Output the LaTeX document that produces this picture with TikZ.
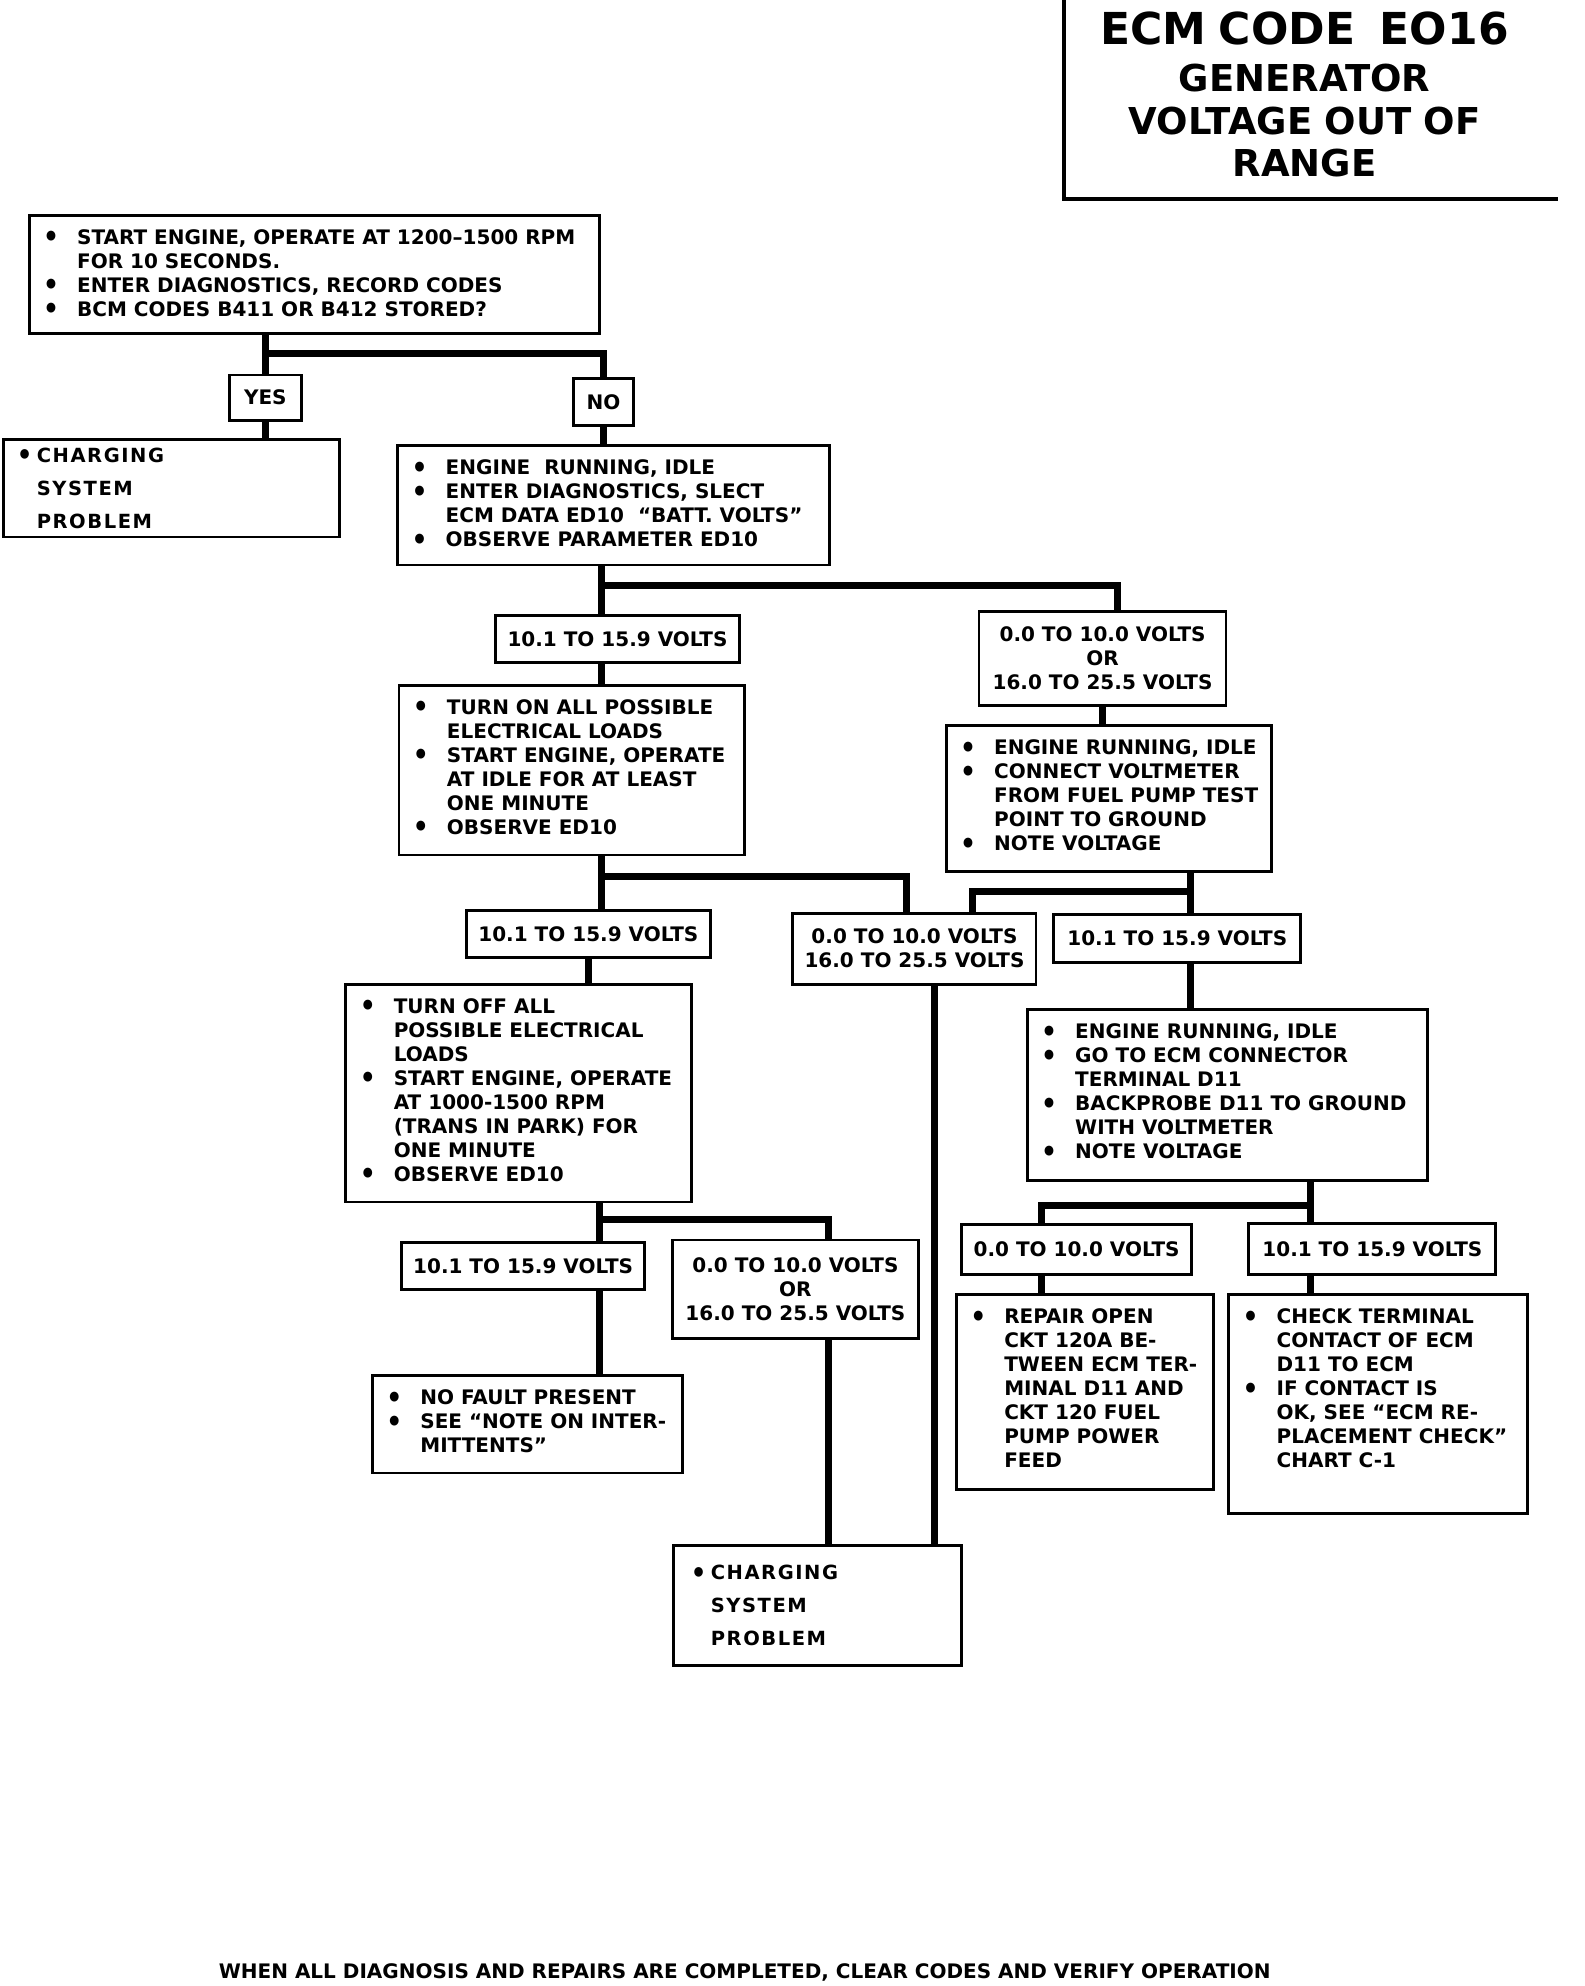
\documentclass[tikz,border=0pt]{standalone}
\usepackage{fontspec}
\newfontfamily\djv{DejaVu Sans}
\newfontfamily\djvls[LetterSpace=8]{DejaVu Sans}
\newcommand\bodyfont{\djv\bfseries\fontsize{20}{24}\selectfont}
\newcommand\chfont{\djvls\bfseries\fontsize{19.5}{33}\selectfont}
\newcommand\bul{\raisebox{-2.5pt}{\scalebox{1.25}[1.4]{•}}}
\newcommand\itm{\par\noindent\llap{\makebox[34pt][l]{\bul}}\strut\ignorespaces}
% list box: name, x1, y1, x2, y2, content (top aligned)
\newcommand{\lbox}[6]{%
  \pgfmathsetmacro\bw{(#4-#2)*1.2662}%
  \pgfmathsetmacro\bh{(#5-#3)*1.2662}%
  \node[boxs] (#1) at (#2,#3) {\parbox[c][\bh pt][t]{\bw pt}{\bodyfont\leftskip=48pt\rightskip=-200pt plus 1fil\parfillskip=0pt plus 1fil\parindent=0pt\vspace*{12.3pt}#6\par}};}
% value box: centered
\newcommand{\vbx}[6]{%
  \pgfmathsetmacro\bw{(#4-#2)*1.2662}%
  \pgfmathsetmacro\bh{(#5-#3)*1.2662}%
  \node[boxs] (#1) at (#2,#3) {\parbox[c][\bh pt][c]{\bw pt}{\centering\bodyfont #6\par}};}
% charging box: name, x1, y1, x2, y2, text indent, content
\newcommand{\cbx}[7]{%
  \pgfmathsetmacro\bw{(#4-#2)*1.2662}%
  \pgfmathsetmacro\bh{(#5-#3)*1.2662}%
  \node[boxs] (#1) at (#2,#3) {\parbox[c][\bh pt][c]{\bw pt}{\chfont\leftskip=#6pt\rightskip=-200pt plus 1fil\parfillskip=0pt plus 1fil\parindent=0pt\noindent\llap{\makebox[20pt][l]{\bul}}#7\par}};}
\begin{document}
\begin{tikzpicture}[x=1.2662pt,y=-1.2662pt,
  boxs/.style={draw,line width=2.8pt,anchor=north west,inner sep=0pt,outer sep=0pt},
  conn/.style={line width=7pt}]
\useasboundingbox (0,0) rectangle (1251,1568);
\fill[white] (0,0) rectangle (1251,1568);

% title
\draw[line width=3.5pt] (840,0) -- (840,157) -- (1230,157);
\node[anchor=north,inner sep=0pt,text width=520pt,align=center,
      font=\djv\bfseries\fontsize{37}{42.5}\selectfont] (title) at (1030,9)
  {{\fontsize{44}{42}\selectfont ECM CODE\ \ EO16}\\[5pt]GENERATOR\\VOLTAGE OUT OF\\RANGE};

% boxes
\lbox{b1}{23}{170}{473}{263}{\itm START ENGINE, OPERATE AT 1200–1500 RPM\\FOR 10 SECONDS.\itm ENTER DIAGNOSTICS, RECORD CODES\itm BCM CODES B411 OR B412 STORED?}
\vbx{yes}{181}{296}{238}{332}{YES}
\vbx{no}{453}{299}{500}{336}{NO}
\cbx{ch1}{3}{347}{268}{424}{33}{CHARGING\\SYSTEM\\PROBLEM}
\lbox{b2}{314}{352}{655}{446}{\itm ENGINE\ \ RUNNING, IDLE\itm ENTER DIAGNOSTICS, SLECT\\ECM DATA ED10\ \ “BATT. VOLTS”\itm OBSERVE PARAMETER ED10}
\vbx{v1}{391}{486}{584}{523}{10.1 TO 15.9 VOLTS}
\vbx{v2}{773}{483}{968}{557}{0.0 TO 10.0 VOLTS\\OR\\16.0 TO 25.5 VOLTS}
\lbox{b3}{315}{541}{588}{675}{\itm TURN ON ALL POSSIBLE\\ELECTRICAL LOADS\itm START ENGINE, OPERATE\\AT IDLE FOR AT LEAST\\ONE MINUTE\itm OBSERVE ED10}
\lbox{b4}{747}{573}{1004}{688}{\itm ENGINE RUNNING, IDLE\itm CONNECT VOLTMETER\\FROM FUEL PUMP TEST\\POINT TO GROUND\itm NOTE VOLTAGE}
\vbx{v3}{368}{719}{561}{756}{10.1 TO 15.9 VOLTS}
\vbx{v4}{626}{721}{818}{777}{0.0 TO 10.0 VOLTS\\16.0 TO 25.5 VOLTS}
\vbx{v5}{832}{722}{1027}{760}{10.1 TO 15.9 VOLTS}
\lbox{b5}{273}{777}{546}{949}{\itm TURN OFF ALL\\POSSIBLE ELECTRICAL\\LOADS\itm START ENGINE, OPERATE\\AT 1000-1500 RPM\\(TRANS IN PARK) FOR\\ONE MINUTE\itm OBSERVE ED10}
\lbox{b6}{811}{797}{1127}{932}{\itm ENGINE RUNNING, IDLE\itm GO TO ECM CONNECTOR\\TERMINAL D11\itm BACKPROBE D11 TO GROUND\\WITH VOLTMETER\itm NOTE VOLTAGE}
\vbx{v6}{317}{981}{509}{1018}{10.1 TO 15.9 VOLTS}
\vbx{v7}{531}{979}{725}{1057}{0.0 TO 10.0 VOLTS\\OR\\16.0 TO 25.5 VOLTS}
\vbx{v8}{759}{967}{941}{1006}{0.0 TO 10.0 VOLTS}
\vbx{v9}{986}{966}{1181}{1006}{10.1 TO 15.9 VOLTS}
\lbox{b7}{294}{1086}{539}{1163}{\itm NO FAULT PRESENT\itm SEE “NOTE ON INTER-\\MITTENTS”}
\lbox{b8}{755}{1022}{958}{1176}{\itm REPAIR OPEN\\CKT 120A BE-\\TWEEN ECM TER-\\MINAL D11 AND\\CKT 120 FUEL\\PUMP POWER\\FEED}
\lbox{b9}{970}{1022}{1206}{1195}{\itm CHECK TERMINAL\\CONTACT OF ECM\\D11 TO ECM\itm IF CONTACT IS\\OK, SEE “ECM RE-\\PLACEMENT CHECK”\\CHART C-1}
\cbx{ch2}{532}{1220}{759}{1315}{37}{CHARGING\\SYSTEM\\PROBLEM}

% footer
\node[font=\bodyfont,inner sep=0pt] (foot) at (588,1557)
  {WHEN ALL DIAGNOSIS AND REPAIRS ARE COMPLETED, CLEAR CODES AND VERIFY OPERATION};

% connectors
\coordinate (j1) at (212,279);
\draw[conn] (b1.south -| yes.north) -- (yes.north);
\draw[conn] (yes.north |- j1) -- (j1 -| no.north) -- (no.north);
\draw[conn] (yes.south) -- (ch1.north -| yes.south);
\draw[conn] (no.south) -- (b2.north -| no.south);
\coordinate (j2) at (475,462);
\coordinate (j2r) at (882,462);
\draw[conn] (b2.south -| j2) -- (v1.north -| j2);
\draw[conn] (j2) -- (j2r) -- (v2.north -| j2r);
\draw[conn] (v1.south -| j2) -- (b3.north -| j2);
\draw[conn] (v2.south) -- (b4.north -| v2.south);
\coordinate (j3) at (475,692);
\coordinate (j3r) at (716,692);
\draw[conn] (b3.south -| j3) -- (v3.north -| j3);
\draw[conn] (j3) -- (j3r) -- (v4.north -| j3r);
\coordinate (j4) at (940,704);
\coordinate (j4l) at (768,704);
\draw[conn] (b4.south -| j4) -- (v5.north -| j4);
\draw[conn] (j4) -- (j4l) -- (v4.north -| j4l);
\draw[conn] (v3.south) -- (b5.north -| v3.south);
\draw[conn] (v5.south -| j4) -- (b6.north -| j4);
\coordinate (j7) at (738,800);
\draw[conn] (v4.south -| j7) -- (ch2.north -| j7);
\coordinate (j5) at (473,963);
\coordinate (j5r) at (654,963);
\draw[conn] (b5.south -| j5) -- (v6.north -| j5);
\draw[conn] (j5) -- (j5r) -- (v7.north -| j5r);
\draw[conn] (v6.south -| j5) -- (b7.north -| j5);
\draw[conn] (v7.south -| j5r) -- (ch2.north -| j5r);
\coordinate (j6) at (1035,952);
\coordinate (j6l) at (822,952);
\draw[conn] (b6.south -| j6) -- (v9.north -| j6);
\draw[conn] (j6) -- (j6l) -- (v8.north -| j6l);
\draw[conn] (v8.south -| j6l) -- (b8.north -| j6l);
\draw[conn] (v9.south -| j6) -- (b9.north -| j6);
\end{tikzpicture}
\end{document}
